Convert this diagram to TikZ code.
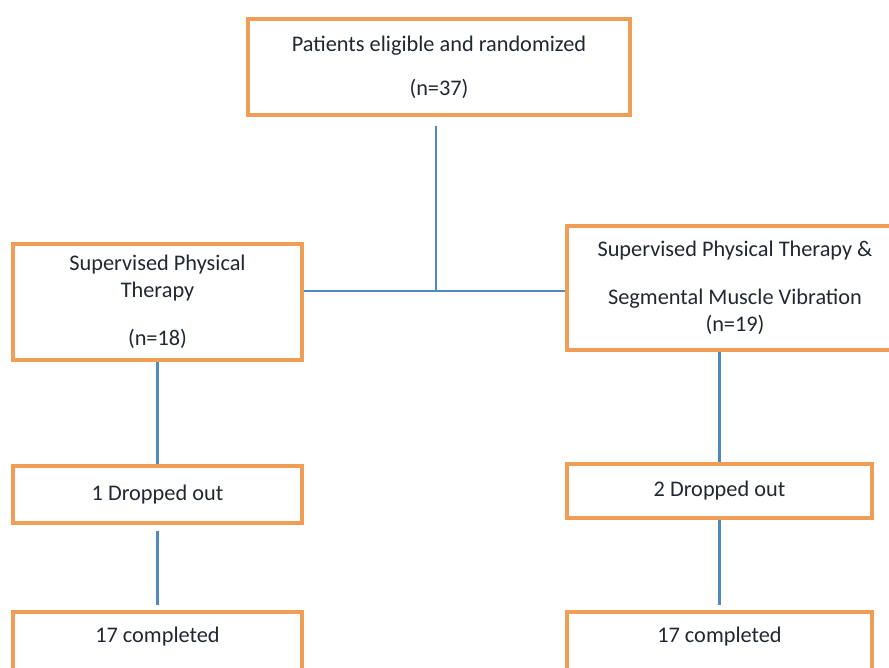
\documentclass[tikz,border=0pt]{standalone}
\usepackage{fontspec}
\setmainfont{Carlito}
\usepackage{tikz}

\definecolor{boxorange}{RGB}{240,158,86}
\definecolor{linkblue}{RGB}{79,138,190}
\definecolor{txtgrey}{RGB}{34,40,50}

\begin{document}
\begin{tikzpicture}[x=0.02cm,y=-0.02cm,
  box/.style={draw=boxorange,line width=2pt,fill=white,align=center,
    text=txtgrey,inner sep=0pt,font=\fontsize{12.7}{15.5}\selectfont},
  link/.style={draw=linkblue,line width=1.15pt}]
  \useasboundingbox (0,0) rectangle (889,667);
  \clip (0,0) rectangle (889,667);
  \node[box,minimum width=7.64cm,minimum height=1.92cm] (P-0) at (439,67) {Patients eligible and randomized\\[0.34cm](n=37)};
  \node[box,minimum width=5.78cm,minimum height=2.32cm] (G-1) at (157.5,302) {Supervised Physical\\Therapy\\[0.42cm](n=18)};
  \node[box,minimum width=6.72cm,minimum height=2.48cm] (G-2) at (735,288) {Supervised Physical Therapy \&\\[0.40cm]Segmental Muscle Vibration\\(n=19)};
  \node[box,minimum width=5.78cm,minimum height=1.14cm] (D-1) at (157.5,494.5) {1 Dropped out};
  \node[box,minimum width=6.10cm,minimum height=1.08cm] (D-2) at (719.5,491) {2 Dropped out};
  \node[box,minimum width=5.78cm,minimum height=1.2cm,text depth=0.3cm] (C-1) at (157.5,642) {17 completed};
  \node[box,minimum width=6.10cm,minimum height=1.2cm,text depth=0.3cm] (C-2) at (719.5,642) {17 completed};
  \coordinate (split) at (436,291);
  \draw[link,shorten <=0.18cm] (split |- P-0.south) -- (split);
  \draw[link] (G-1.east |- split) -- (G-2.west |- split);
  \draw[link] (G-1) -- (D-1);
  \draw[link,shorten <=0.12cm,shorten >=0.1cm] (D-1) -- (C-1);
  \draw[link] (D-2.north |- G-2.south) -- (D-2);
  \draw[link,shorten >=0.1cm] (D-2) -- (C-2);
\end{tikzpicture}
\end{document}
